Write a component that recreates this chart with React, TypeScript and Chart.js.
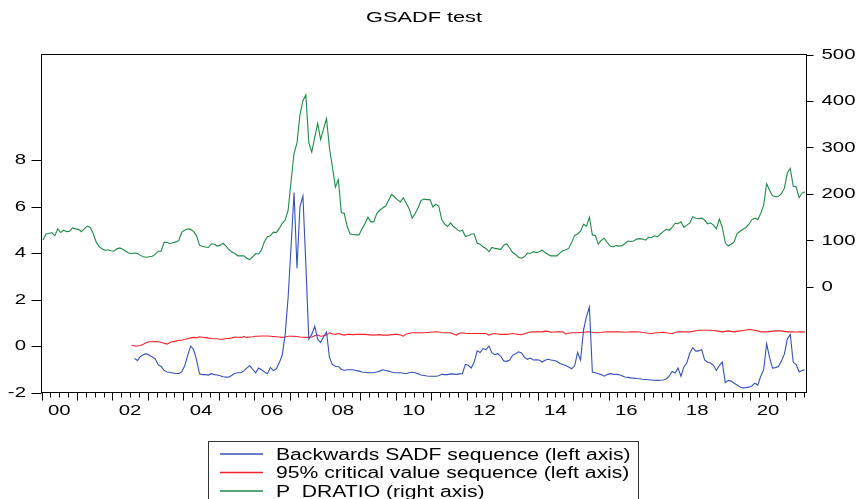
import React, { useEffect, useRef } from "react";
import { Chart, registerables } from "chart.js";
Chart.register(...registerables);

// Monthly observations, 2000M01 .. 2021M07
const N_MONTHS = 259;
const X_LABELS = ["00", "02", "04", "06", "08", "10", "12", "14", "16", "18", "20"];
const LEFT_TICKS = [-2, 0, 2, 4, 6, 8];
const RIGHT_TICKS = [0, 100, 200, 300, 400, 500];
const TITLE = "GSADF test";
const LEGEND_LABELS = [
  "Backwards SADF sequence (left axis)",
  "95% critical value sequence (left axis)",
  "P_DRATIO (right axis)",
];
const COLORS = ["#3452b4", "#f5222a", "#1f8a4a"];

// Backwards SADF sequence (left axis)
const SADF: (number | null)[] = [
  null, null, null, null, null, null, null, null, null, null,
  null, null, null, null, null, null, null, null, null, null,
  null, null, null, null, null, null, null, null, null, null,
  null,
  -0.54, -0.62, -0.45, -0.38, -0.33, -0.40, -0.47, -0.55, -0.80, -0.88,
  -1.05, -1.12, -1.14, -1.16, -1.18, -1.19, -1.10, -0.85, -0.40, 0.0,
  -0.15, -0.6, -1.2, -1.23, -1.23, -1.25, -1.19, -1.23, -1.25, -1.28,
  -1.32, -1.34, -1.33, -1.26, -1.17, -1.15, -1.15, -1.07, -0.95, -0.84,
  -1.0, -1.15, -0.95, -1.02, -1.12, -1.19, -0.92, -1.06, -0.98, -0.72,
  -0.4, 0.5, 2.1, 4.3, 6.6, 3.35, 6.0, 6.45, 3.5, 0.3,
  0.5, 0.85, 0.3, 0.15, 0.4, 0.6, -0.5, -0.8, -0.87, -0.88,
  -1.0, -1.05, -1.02, -1.02, -1.02, -1.05, -1.08, -1.12, -1.13, -1.15,
  -1.15, -1.15, -1.12, -1.08, -1.02, -1.05, -1.08, -1.12, -1.15, -1.15,
  -1.15, -1.17, -1.19, -1.15, -1.13, -1.15, -1.19, -1.25, -1.27, -1.29,
  -1.3, -1.3, -1.3, -1.28, -1.22, -1.23, -1.23, -1.2, -1.21, -1.22,
  -1.2, -1.19, -0.79, -0.83, -0.95, -0.69, -0.21, -0.28, -0.11, -0.15,
  0.0, -0.3, -0.37, -0.33, -0.45, -0.64, -0.66, -0.6, -0.4, -0.33,
  -0.25, -0.3, -0.48, -0.57, -0.52, -0.6, -0.59, -0.6, -0.69, -0.61,
  -0.57, -0.6, -0.62, -0.66, -0.75, -0.8, -0.84, -0.9, -0.98, -0.85,
  -0.28, -0.61, 0.68, 1.26, 1.67, -1.12, -1.15, -1.19, -1.23, -1.3,
  -1.23, -1.19, -1.21, -1.22, -1.23, -1.28, -1.33, -1.35, -1.37, -1.38,
  -1.4, -1.41, -1.43, -1.44, -1.45, -1.46, -1.47, -1.48, -1.47, -1.46,
  -1.42, -1.3, -1.1, -1.16, -0.95, -1.3, -0.9, -0.72, -0.3, -0.07,
  -0.22, -0.21, -0.15, -0.6, -0.7, -0.73, -0.83, -1.05, -0.83, -0.69,
  -1.58, -1.48, -1.51, -1.6, -1.68, -1.76, -1.8, -1.79, -1.77, -1.72,
  -1.6, -1.68, -1.3, -1.02, 0.1, -0.5, -0.95, -0.93, -0.88, -0.65,
  -0.35, 0.3, 0.5, -0.69, -0.8, -1.12, -1.05, -1.02,
];

// 95% critical value sequence (left axis)
const CV95: (number | null)[] = [
  null, null, null, null, null, null, null, null, null, null,
  null, null, null, null, null, null, null, null, null, null,
  null, null, null, null, null, null, null, null, null, null,
  0.03, 0.0, 0.0, 0.02, 0.08, 0.15, 0.18, 0.18, 0.19, 0.18,
  0.16, 0.12, 0.08, 0.15, 0.19, 0.21, 0.25, 0.25, 0.28, 0.32,
  0.35, 0.37, 0.35, 0.4, 0.38, 0.36, 0.34, 0.32, 0.31, 0.31,
  0.28, 0.3, 0.32, 0.33, 0.35, 0.39, 0.38, 0.37, 0.41, 0.37,
  0.39, 0.4, 0.42, 0.42, 0.43, 0.43, 0.43, 0.42, 0.41, 0.4,
  0.39, 0.37, 0.39, 0.42, 0.42, 0.42, 0.41, 0.39, 0.38, 0.37,
  0.38, 0.39, 0.44, 0.47, 0.42, 0.44, 0.47, 0.57, 0.52, 0.5,
  0.54, 0.5, 0.47, 0.5, 0.5, 0.49, 0.5, 0.5, 0.5, 0.5,
  0.49, 0.48, 0.47, 0.48, 0.49, 0.47, 0.47, 0.47, 0.49, 0.5,
  0.5, 0.47, 0.42, 0.52, 0.55, 0.57, 0.57, 0.57, 0.57, 0.57,
  0.58, 0.59, 0.6, 0.61, 0.6, 0.58, 0.57, 0.57, 0.57, 0.52,
  0.47, 0.55, 0.57, 0.55, 0.54, 0.54, 0.54, 0.54, 0.54, 0.54,
  0.54, 0.47, 0.52, 0.54, 0.52, 0.5, 0.5, 0.5, 0.52, 0.54,
  0.52, 0.5, 0.49, 0.53, 0.57, 0.6, 0.61, 0.61, 0.61, 0.61,
  0.64, 0.63, 0.59, 0.6, 0.61, 0.61, 0.61, 0.52, 0.55, 0.57,
  0.57, 0.57, 0.58, 0.59, 0.6, 0.61, 0.59, 0.57, 0.57, 0.58,
  0.6, 0.61, 0.61, 0.61, 0.61, 0.61, 0.6, 0.59, 0.6, 0.61,
  0.61, 0.61, 0.6, 0.58, 0.57, 0.55, 0.54, 0.56, 0.57, 0.58,
  0.59, 0.57, 0.55, 0.54, 0.58, 0.61, 0.61, 0.61, 0.61, 0.61,
  0.63, 0.66, 0.68, 0.68, 0.68, 0.68, 0.68, 0.67, 0.65, 0.63,
  0.61, 0.63, 0.65, 0.63, 0.61, 0.63, 0.65, 0.67, 0.69, 0.71,
  0.7, 0.68, 0.65, 0.61, 0.61, 0.61, 0.62, 0.64, 0.65, 0.65,
  0.65, 0.63, 0.61, 0.61, 0.61, 0.6, 0.61, 0.61, 0.61,
];

// P_DRATIO (right axis)
const PDRATIO: number[] = [
  101, 114, 115, 117, 110, 125, 117, 122, 119, 120,
  127, 125, 124, 119, 125, 131, 128, 115, 97, 87,
  82, 79, 80, 78, 77, 82, 84, 81, 77, 73,
  72, 73, 72, 68, 65, 64, 65, 66, 70, 77,
  77, 96, 96, 93, 95, 97, 100, 118, 122, 125,
  124, 119, 110, 90, 87, 86, 85, 93, 92, 88,
  90, 94, 88, 80, 75, 72, 67, 67, 67, 62,
  59, 65, 72, 71, 80, 98, 108, 110, 118, 117,
  126, 137, 144, 165, 228, 287, 310, 370, 400, 413,
  310, 290, 322, 352, 317, 340, 362, 298, 258, 215,
  231, 160, 158, 130, 114, 113, 112, 112, 125, 136,
  150, 140, 140, 158, 165, 170, 174, 186, 199, 194,
  188, 183, 192, 180, 168, 148, 158, 170, 186, 189,
  188, 188, 172, 178, 174, 145, 135, 130, 138, 130,
  125, 120, 122, 109, 110, 114, 114, 94, 92, 86,
  83, 76, 85, 83, 82, 81, 90, 93, 84, 74,
  70, 64, 62, 65, 73, 72, 76, 74, 76, 79,
  74, 70, 67, 67, 67, 73, 78, 80, 83, 96,
  111, 114, 120, 135, 131, 150, 112, 111, 92, 100,
  105, 96, 88, 86, 89, 88, 89, 93, 99, 98,
  99, 103, 104, 103, 101, 107, 106, 110, 108, 114,
  119, 124, 122, 128, 137, 136, 140, 128, 133, 138,
  151, 148, 147, 148, 144, 136, 138, 133, 125, 146,
  128, 95, 88, 92, 97, 115, 120, 124, 128, 135,
  145, 148, 145, 158, 176, 222, 208, 196, 194, 195,
  201, 212, 245, 255, 217, 215, 192, 202, 205,
];

const FONT = "'Liberation Sans', Arial, sans-serif";
const STRETCH = 1.36;

function drawText(
  ctx: CanvasRenderingContext2D,
  text: string,
  x: number,
  y: number,
  align: CanvasTextAlign,
  size: number,
  sx: number
) {
  ctx.save();
  ctx.font = `${size}px ${FONT}`;
  ctx.fillStyle = "#000";
  ctx.textAlign = align;
  ctx.textBaseline = "middle";
  ctx.translate(x, y);
  ctx.scale(sx, 1);
  ctx.fillText(text, 0, 0);
  ctx.restore();
}

const decorPlugin = {
  id: "eviewsDecor",
  afterDraw(chart: any) {
    const { ctx, chartArea: ca, scales } = chart;
    const xs = scales.x;
    const yl = scales.y;
    const yr = scales.y1;
    ctx.save();
    ctx.strokeStyle = "#000";
    ctx.lineWidth = 1;
    ctx.strokeRect(ca.left, ca.top, ca.right - ca.left, ca.bottom - ca.top);

    // x ticks (quarters; longer at year boundaries)
    ctx.beginPath();
    for (let m = 0; m <= N_MONTHS; m += 3) {
      const px = Math.round(xs.getPixelForValue(m)) + 0.5;
      const len = m % 12 === 0 ? 8 : 5;
      ctx.moveTo(px, ca.bottom);
      ctx.lineTo(px, ca.bottom + len);
    }
    // left ticks
    LEFT_TICKS.forEach((v) => {
      const py = Math.round(yl.getPixelForValue(v)) + 0.5;
      ctx.moveTo(ca.left - 10, py);
      ctx.lineTo(ca.left, py);
    });
    // right ticks
    RIGHT_TICKS.forEach((v) => {
      const py = Math.round(yr.getPixelForValue(v)) + 0.5;
      ctx.moveTo(ca.right, py);
      ctx.lineTo(ca.right + 7, py);
    });
    ctx.stroke();

    X_LABELS.forEach((lab, k) => {
      const px = xs.getPixelForValue(24 * k + 6);
      drawText(ctx, lab, px, ca.bottom + 18, "center", 15, STRETCH);
    });
    LEFT_TICKS.forEach((v) => {
      drawText(ctx, String(v), 26, yl.getPixelForValue(v), "right", 15, STRETCH);
    });
    RIGHT_TICKS.forEach((v) => {
      drawText(ctx, String(v), ca.right + 15, yr.getPixelForValue(v), "left", 15, STRETCH);
    });

    // title
    drawText(ctx, TITLE, 424, 18, "center", 15, 1.45);

    // legend
    ctx.strokeStyle = "#333";
    ctx.strokeRect(208.5, 441.5, 430, 120);
    LEGEND_LABELS.forEach((lab, k) => {
      const ly = 454 + k * 18.5;
      ctx.strokeStyle = COLORS[k];
      ctx.lineWidth = 1.6;
      ctx.beginPath();
      ctx.moveTo(220, ly);
      ctx.lineTo(263, ly);
      ctx.stroke();
      drawText(ctx, lab, 276, ly + 1.5, "left", 16, 1.32);
    });
    ctx.restore();
  },
};

export default function App() {
  const ref = useRef<HTMLCanvasElement | null>(null);
  useEffect(() => {
    document.body.style.margin = "0";
    const canvas = ref.current;
    if (!canvas) return;
    const pts = (arr: (number | null)[]) =>
      arr.map((v, i) => ({ x: i + 0.5, y: v }));
    const chart = new Chart(canvas, {
      type: "line",
      data: {
        datasets: [
          {
            label: LEGEND_LABELS[0],
            data: pts(SADF) as any,
            borderColor: COLORS[0],
            borderWidth: 1.1,
            pointRadius: 0,
            yAxisID: "y",
            order: 1,
          },
          {
            label: LEGEND_LABELS[1],
            data: pts(CV95) as any,
            borderColor: COLORS[1],
            borderWidth: 1.1,
            pointRadius: 0,
            yAxisID: "y",
            order: 2,
          },
          {
            label: LEGEND_LABELS[2],
            data: pts(PDRATIO) as any,
            borderColor: COLORS[2],
            borderWidth: 1.1,
            pointRadius: 0,
            yAxisID: "y1",
            order: 3,
          },
        ],
      },
      options: {
        responsive: false,
        animation: false,
        events: [],
        layout: { padding: { left: 41.5, right: 52.5, top: 54.5, bottom: 106.5 } },
        plugins: { legend: { display: false }, title: { display: false }, tooltip: { enabled: false } },
        elements: { line: { tension: 0 } },
        scales: {
          x: { type: "linear", min: 0, max: N_MONTHS, display: false },
          y: { type: "linear", position: "left", min: -2, max: 12.54, display: false },
          y1: { type: "linear", position: "right", min: -226.9, max: 500, display: false },
        },
      },
      plugins: [decorPlugin],
    });
    return () => chart.destroy();
  }, []);
  return (
    <div style={{ width: 859, height: 499, background: "#fff" }}>
      <canvas ref={ref} width={859} height={499} style={{ display: "block" }} />
    </div>
  );
}
